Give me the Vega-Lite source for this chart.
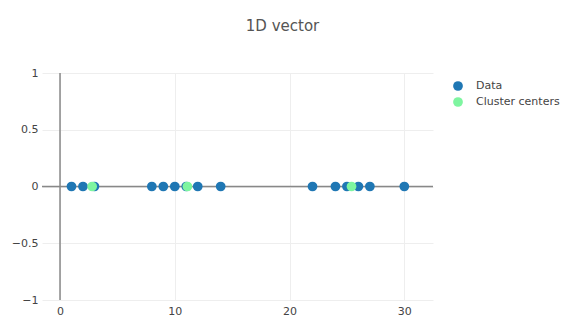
{
  "$schema": "https://vega.github.io/schema/vega-lite/v6.json",
  "width": 391,
  "height": 227,
  "autosize": {"type": "none"},
  "padding": {"left": 42, "top": 73, "right": 133, "bottom": 34},
  "background": "white",
  "title": {
    "text": "1D vector",
    "font": "DejaVu Sans",
    "fontSize": 15,
    "fontWeight": "normal",
    "color": "#555",
    "anchor": "middle",
    "offset": 33,
    "dx": 45
  },
  "config": {
    "view": {"stroke": null},
    "axis": {
      "labelFont": "DejaVu Sans",
      "labelFontSize": 11,
      "labelColor": "#444",
      "domain": false,
      "ticks": false,
      "gridColor": "#eeeeee",
      "gridWidth": 1,
      "title": null
    },
    "legend": {
      "labelFont": "DejaVu Sans",
      "labelFontSize": 11,
      "labelColor": "#444"
    }
  },
  "datasets": {
    "pts": [
      {"x": 1, "series": "Data"},
      {"x": 2, "series": "Data"},
      {"x": 3, "series": "Data"},
      {"x": 8, "series": "Data"},
      {"x": 9, "series": "Data"},
      {"x": 10, "series": "Data"},
      {"x": 11, "series": "Data"},
      {"x": 12, "series": "Data"},
      {"x": 14, "series": "Data"},
      {"x": 22, "series": "Data"},
      {"x": 24, "series": "Data"},
      {"x": 25, "series": "Data"},
      {"x": 26, "series": "Data"},
      {"x": 27, "series": "Data"},
      {"x": 30, "series": "Data"},
      {"x": 2.8, "series": "Cluster centers"},
      {"x": 11.1, "series": "Cluster centers"},
      {"x": 25.4, "series": "Cluster centers"}
    ],
    "zero": [{"v": 0}]
  },
  "layer": [
    {
      "data": {"name": "zero"},
      "mark": {"type": "rule", "color": "#888", "strokeWidth": 1.5},
      "encoding": {"y": {"field": "v", "type": "quantitative"}}
    },
    {
      "data": {"name": "zero"},
      "mark": {"type": "rule", "color": "#888", "strokeWidth": 1.5},
      "encoding": {"x": {"field": "v", "type": "quantitative"}}
    },
    {
      "data": {"name": "pts"},
      "mark": {"type": "circle", "size": 95, "opacity": 1},
      "encoding": {
        "x": {
          "field": "x",
          "type": "quantitative",
          "scale": {"domain": [-1.57, 32.5], "nice": false, "zero": false},
          "axis": {"values": [0, 10, 20, 30], "labelPadding": 5, "grid": true}
        },
        "y": {
          "datum": 0,
          "type": "quantitative",
          "scale": {"domain": [-1, 1], "nice": false},
          "axis": {
            "values": [-1, -0.5, 0, 0.5, 1],
            "labelPadding": 4,
            "grid": true,
            "labelExpr": "replace(format(datum.value, '~g'), '-', '−')"
          }
        },
        "color": {
          "field": "series",
          "type": "nominal",
          "scale": {"domain": ["Data", "Cluster centers"], "range": ["#1f77b4", "#7ef5a0"]},
          "legend": {
            "title": null,
            "orient": "none",
            "legendX": 410,
            "legendY": 7,
            "symbolType": "circle",
            "symbolSize": 95,
            "symbolOpacity": 1,
            "rowPadding": 5,
            "labelOffset": 12
          }
        },
        "order": {"field": "series", "sort": "descending"}
      }
    }
  ]
}
